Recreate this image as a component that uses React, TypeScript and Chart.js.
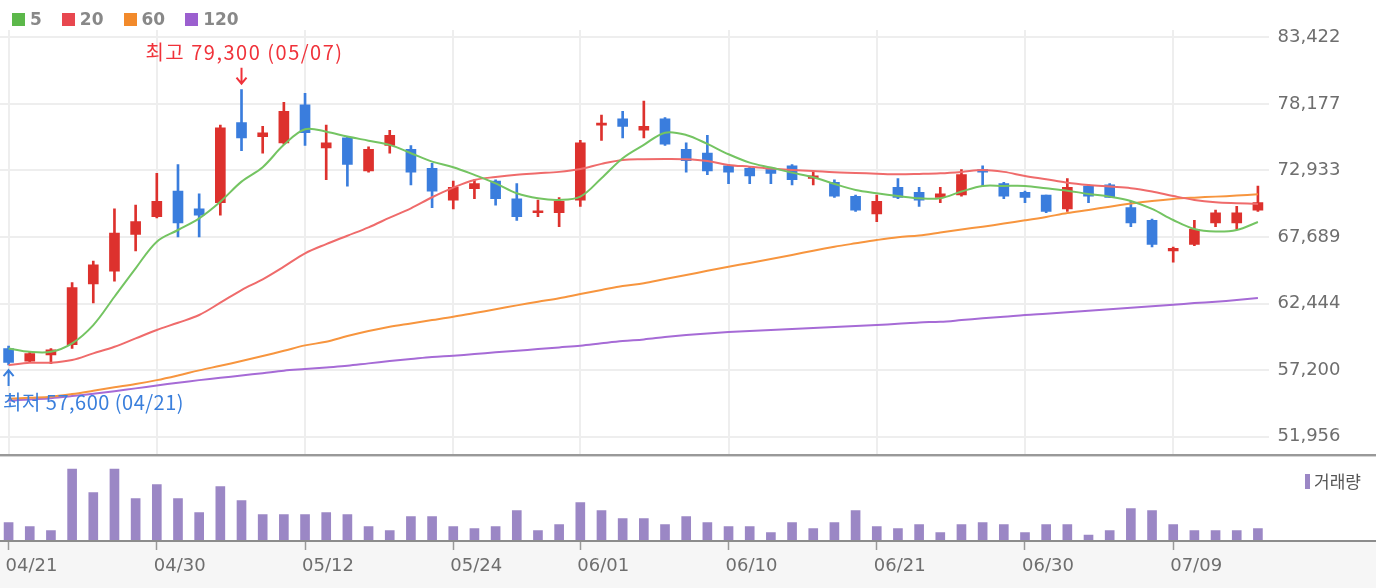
import React, { useEffect, useRef } from 'react';
import { Chart, registerables } from 'chart.js';

Chart.register(...registerables);

// ---------- data ----------
const dates = [
  '04/21', '04/22', '04/23', '04/26', '04/27', '04/28', '04/29', '04/30', '05/03', '05/04',
  '05/06', '05/07', '05/10', '05/11', '05/12', '05/13', '05/14', '05/17', '05/18', '05/20',
  '05/21', '05/24', '05/25', '05/26', '05/27', '05/28', '05/31', '06/01', '06/02', '06/03',
  '06/04', '06/07', '06/08', '06/09', '06/10', '06/11', '06/14', '06/15', '06/16', '06/17',
  '06/18', '06/21', '06/22', '06/23', '06/24', '06/25', '06/28', '06/29', '06/30', '07/01',
  '07/02', '07/05', '07/06', '07/07', '07/08', '07/09', '07/12', '07/13', '07/14', '07/15',
];

const axisDates = ['04/21', '04/30', '05/12', '05/24', '06/01', '06/10', '06/21', '06/30', '07/09'];

const opens = [
  58900, 57900, 58400, 59200, 64000, 65000, 67900, 69300, 71300, 69900,
  70400, 76700, 75600, 75100, 78100, 74700, 75500, 72900, 74900, 74600,
  73100, 70600, 71500, 72100, 70700, 69600, 69600, 70600, 76500, 77000,
  76100, 77000, 74600, 74300, 73300, 73100, 73100, 73300, 72300, 72000,
  70900, 69500, 71600, 71200, 70800, 71000, 73000, 71900, 71200, 71000,
  69900, 71700, 71800, 70000, 69000, 66600, 67100, 68800, 68800, 69800,
];
const highs = [
  59100, 58600, 58900, 64100, 65800, 69900, 70200, 72700, 73400, 71100,
  76500, 79300, 76400, 78300, 79000, 76500, 75600, 74800, 76100, 74900,
  73500, 72100, 72200, 72200, 71900, 70600, 70800, 75300, 77300, 77600,
  78400, 77100, 75100, 75700, 73400, 73200, 73100, 73400, 72800, 72200,
  71000, 71000, 72300, 71600, 71600, 73000, 73300, 72000, 71300, 71000,
  72300, 71800, 71900, 70500, 69100, 66900, 69000, 69800, 70100, 71700,
];
const lows = [
  57600, 57800, 57700, 58900, 62500, 64200, 66600, 69200, 67700, 67700,
  69400, 74500, 74300, 75000, 74900, 72200, 71700, 72800, 74300, 71800,
  70000, 69900, 70700, 70200, 69000, 69300, 68500, 70100, 75300, 75500,
  75500, 74900, 72800, 72600, 71900, 71900, 71900, 71800, 71800, 70800,
  69700, 68900, 70700, 70100, 70400, 70900, 71700, 70700, 70400, 69600,
  69700, 70400, 70800, 68500, 66900, 65700, 67000, 68500, 68300, 69700,
];
const closes = [
  57800, 58500, 58800, 63700, 65500, 68000, 68900, 70500, 68800, 69400,
  76300, 75500, 75900, 77600, 75900, 75100, 73400, 74600, 75700, 72800,
  71300, 71600, 71900, 70700, 69300, 69700, 70500, 75100, 76600, 76400,
  76400, 75000, 73700, 72900, 72800, 72500, 72700, 72200, 72500, 70900,
  69800, 70500, 70800, 70600, 71100, 72600, 72800, 70900, 70800, 69700,
  71600, 70900, 70800, 68800, 67100, 66800, 68300, 69600, 69600, 70400,
];

const ma5 = [
  58910, 58640, 58640, 59310, 60750, 62980, 65220, 67320, 68240, 69160,
  70470, 72050, 73190, 74950, 76180, 75990, 75600, 75280, 74950, 74290,
  73630, 73190, 72580, 71920, 71140, 70740, 70610, 70870, 72320, 73900,
  74950, 75910, 75730, 75020, 74210, 73550, 73160, 72760, 72400, 71870,
  71400, 71140, 70920, 70740, 70740, 71270, 71710, 71710, 71710, 71530,
  71340, 71080, 70870, 70530, 69900, 69030, 68320, 68120, 68240, 68870,
];
const ma20 = [
  57600, 57780, 57780, 57990, 58520, 59040, 59700, 60360, 60930, 61540,
  62510, 63510, 64350, 65350, 66400, 67130, 67790, 68450, 69210, 69950,
  70820, 71580, 72180, 72420, 72600, 72710, 72820, 73050, 73450, 73760,
  73820, 73840, 73820, 73680, 73370, 73230, 73080, 72970, 72890, 72790,
  72740, 72680, 72630, 72660, 72710, 72820, 72970, 72820, 72500, 72240,
  71970, 71790, 71660, 71530, 71270, 70920, 70610, 70430, 70350, 70290,
];
const ma60 = [
  54940, 55020, 55100, 55310, 55570, 55840, 56100, 56410, 56780, 57180,
  57540, 57910, 58310, 58720, 59150, 59430, 59880, 60280, 60620, 60880,
  61140, 61400, 61700, 61990, 62300, 62590, 62860, 63190, 63510, 63830,
  64040, 64380, 64690, 65030, 65350, 65640, 65950, 66270, 66610, 66920,
  67190, 67450, 67670, 67810, 68040, 68280, 68500, 68750, 69000, 69270,
  69580, 69820, 70080, 70320, 70530, 70690, 70790, 70870, 70950, 71060,
];
const ma120 = [
  54780, 54890, 54990, 55150, 55330, 55540, 55760, 55990, 56200, 56410,
  56590, 56780, 56960, 57150, 57280, 57410, 57540, 57730, 57910, 58070,
  58230, 58330, 58460, 58600, 58720, 58860, 58990, 59120, 59310, 59490,
  59620, 59800, 59960, 60090, 60200, 60280, 60360, 60430, 60510, 60590,
  60670, 60750, 60850, 60960, 61010, 61140, 61280, 61400, 61540, 61640,
  61750, 61880, 61990, 62110, 62230, 62350, 62480, 62590, 62720, 62880,
];

// volume (thousand shares)
const volumes = [
  1830, 1430, 1030, 7200, 4830, 7200, 4230, 5630, 4230, 2830,
  5430, 4030, 2630, 2630, 2630, 2830, 2630, 1430, 1030, 2430,
  2430, 1430, 1230, 1430, 3030, 1030, 1630, 3830, 3030, 2230,
  2230, 1630, 2430, 1830, 1430, 1430, 830, 1830, 1230, 1830,
  3030, 1430, 1230, 1630, 830, 1630, 1830, 1630, 830, 1630,
  1630, 600, 1030, 3230, 3030, 1630, 1030, 1030, 1030, 1230,
];

const priceTicks = [51956, 57200, 62444, 67689, 72933, 78177, 83422];
const maPeriods = ['5', '20', '60', '120'];
const volumeLabel = '거래량';
const highLabel = '최고';
const lowLabel = '최저';

const PRICE_MIN = 50510;
const PRICE_MAX = 84000;
const VOLUME_MAX = 7800;

// ---------- styles ----------
const UP = '#dd312d';
const DOWN = '#3a7ddd';
const MA_LINE_COLORS = ['#74c462', '#ef6b6b', '#f7953e', '#a66bd6'];
const MA_BOX_COLORS = ['#5cb84a', '#e8474f', '#f28a2b', '#9b5fcf'];
const VOL_COLOR = '#9b87c5';
const AXIS_FONT = { family: '"DejaVu Sans", sans-serif', size: 18 };
const AXIS_COLOR = '#6e6e6e';
const CANVAS_W = 1378;
const PRICE_H = 456;
const VOL_H = 132;
const AXIS_W = 107.5;

const fmt = (v: number) => Number(v).toLocaleString('en-US');
const isAxisIdx = (i: number) => axisDates.includes(dates[i]);

function drawArrow(ctx: CanvasRenderingContext2D, x: number, tipY: number, tailY: number, color: string) {
  const dir = tipY > tailY ? 1 : -1;
  ctx.strokeStyle = color;
  ctx.lineWidth = 2;
  ctx.beginPath();
  ctx.moveTo(x, tailY);
  ctx.lineTo(x, tipY);
  ctx.moveTo(x - 5, tipY - dir * 6);
  ctx.lineTo(x, tipY);
  ctx.lineTo(x + 5, tipY - dir * 6);
  ctx.stroke();
}

const extremesPlugin = {
  id: 'extremes',
  afterDatasetsDraw(chart: any) {
    const { ctx, scales } = chart;
    const xs = scales.x;
    const ys = scales.y;
    const hi = Math.max(...highs);
    const lo = Math.min(...lows);
    const hiIdx = highs.indexOf(hi);
    const loIdx = lows.indexOf(lo);
    ctx.save();
    ctx.font = '20px "Noto Sans CJK KR", sans-serif';
    ctx.textBaseline = 'middle';
    ctx.textAlign = 'left';
    const place = (text: string, cx: number, cy: number, color: string, spacing: number) => {
      (ctx as any).letterSpacing = spacing + 'px';
      const w = ctx.measureText(text).width;
      let left = cx - w / 2;
      if (left < 5) left = 5;
      if (left + w > chart.chartArea.right) left = chart.chartArea.right - w;
      ctx.fillStyle = color;
      ctx.fillText(text, left, cy);
      (ctx as any).letterSpacing = '0px';
    };
    const hx = xs.getPixelForValue(hiIdx);
    const hy = ys.getPixelForValue(hi);
    drawArrow(ctx, hx, hy - 6, hy - 22, '#f0323a');
    place(`${highLabel} ${fmt(hi)} (${dates[hiIdx]})`, hx + 3, hy - 37, '#f0323a', 1.5);
    const lx = xs.getPixelForValue(loIdx);
    const ly = ys.getPixelForValue(lo);
    drawArrow(ctx, lx, ly + 5, ly + 21, '#3a7fdc');
    place(`${lowLabel} ${fmt(lo)} (${dates[loIdx]})`, lx, ly + 37, '#3a7fdc', 0.5);
    ctx.restore();
  },
};

const priceDecoPlugin = {
  id: 'priceDeco',
  afterDraw(chart: any) {
    const { ctx } = chart;
    ctx.save();
    ctx.fillStyle = '#999999';
    ctx.fillRect(0, chart.chartArea.bottom - 1, chart.width, 2);
    ctx.restore();
  },
};

const volDecoPlugin = {
  id: 'volDeco',
  beforeDraw(chart: any) {
    const { ctx, chartArea } = chart;
    ctx.save();
    ctx.fillStyle = '#f6f6f6';
    ctx.fillRect(0, chartArea.bottom, chart.width, chart.height - chartArea.bottom);
    ctx.fillStyle = '#d4d4d4';
    ctx.fillRect(0, 0, chart.width, 1);
    ctx.restore();
  },
  afterDatasetsDraw(chart: any) {
    const { ctx, chartArea } = chart;
    ctx.save();
    ctx.fillStyle = '#8c8c8c';
    ctx.fillRect(0, chartArea.bottom - 1, chart.width, 2);
    ctx.restore();
  },
};

export default function App() {
  const priceRef = useRef<HTMLCanvasElement | null>(null);
  const volRef = useRef<HTMLCanvasElement | null>(null);

  useEffect(() => {
    if (!priceRef.current || !volRef.current) return;
    const candleColors = dates.map((_, i) => (closes[i] >= opens[i] ? UP : DOWN));
    const maData = [ma5, ma20, ma60, ma120];

    const price = new Chart(priceRef.current, {
      type: 'bar',
      data: {
        labels: dates,
        datasets: [
          ...maData.map((d, k) => ({
            type: 'line' as const,
            label: maPeriods[k],
            data: d,
            borderColor: MA_LINE_COLORS[k],
            borderWidth: 2,
            pointRadius: 0,
            tension: 0.35,
            fill: false,
            order: -1 - (3 - k),
          })),
          {
            type: 'bar' as const,
            label: 'wick',
            data: dates.map((_, i) => [lows[i], highs[i]]),
            backgroundColor: candleColors,
            barThickness: 2,
            grouped: false,
            order: 2,
          },
          {
            type: 'bar' as const,
            label: 'body',
            data: dates.map((_, i) => [opens[i], closes[i]]),
            backgroundColor: candleColors,
            barThickness: 10,
            minBarLength: 2,
            grouped: false,
            order: 1,
          },
        ] as any,
      },
      options: {
        responsive: false,
        animation: false,
        devicePixelRatio: 1,
        events: [],
        layout: { padding: { top: 30, bottom: 1, left: 0, right: 0 } },
        plugins: { legend: { display: false }, tooltip: { enabled: false } },
        scales: {
          x: {
            offset: true,
            grid: {
              offset: false,
              drawTicks: false,
              lineWidth: 2,
              color: (c: any) => (isAxisIdx(c.index) ? '#eeeeee' : 'rgba(0,0,0,0)'),
            },
            border: { display: false },
            ticks: { display: false, autoSkip: false },
            afterFit: (s: any) => {
              s.height = 0;
              s.paddingLeft = 0;
              s.paddingRight = 0;
            },
          },
          y: {
            position: 'right',
            min: PRICE_MIN,
            max: PRICE_MAX,
            afterBuildTicks: (s: any) => {
              s.ticks = priceTicks.map((v) => ({ value: v }));
            },
            afterFit: (s: any) => {
              s.width = AXIS_W;
              s.paddingTop = 0;
              s.paddingBottom = 0;
            },
            grid: { color: '#eeeeee', lineWidth: 2, drawTicks: false },
            border: { display: false },
            ticks: {
              padding: 9,
              color: AXIS_COLOR,
              font: AXIS_FONT,
              autoSkip: false,
              callback: (v: any) => fmt(Number(v)),
            },
          },
        },
      } as any,
      plugins: [extremesPlugin, priceDecoPlugin],
    });

    const vol = new Chart(volRef.current, {
      type: 'bar',
      data: {
        labels: dates,
        datasets: [
          {
            label: volumeLabel,
            data: volumes,
            backgroundColor: VOL_COLOR,
            barThickness: 9,
          },
        ],
      },
      options: {
        responsive: false,
        animation: false,
        devicePixelRatio: 1,
        events: [],
        layout: { padding: { top: 7, right: AXIS_W, left: 0, bottom: 0 } },
        plugins: { legend: { display: false }, tooltip: { enabled: false } },
        scales: {
          x: {
            offset: true,
            grid: {
              offset: false,
              drawOnChartArea: false,
              drawTicks: true,
              tickLength: 9,
              tickWidth: 1.5,
              tickColor: (c: any) => (isAxisIdx(c.index) ? '#999999' : 'rgba(0,0,0,0)'),
            },
            border: { display: false },
            ticks: {
              autoSkip: false,
              maxRotation: 0,
              minRotation: 0,
              align: 'start',
              labelOffset: -3,
              padding: 6,
              color: AXIS_COLOR,
              font: AXIS_FONT,
              callback: (_v: any, i: number) => (isAxisIdx(i) ? dates[i] : ''),
            },
            afterFit: (s: any) => {
              s.height = 47;
              s.paddingLeft = 0;
              s.paddingRight = 0;
            },
          },
          y: { display: false, min: 0, max: VOLUME_MAX },
        },
      } as any,
      plugins: [volDecoPlugin],
    });

    return () => {
      price.destroy();
      vol.destroy();
    };
  }, []);

  return (
    <div
      style={{
        position: 'absolute',
        left: 0,
        top: 0,
        width: 1376,
        height: 588,
        overflow: 'hidden',
        background: '#ffffff',
      }}
    >
      <canvas
        ref={priceRef}
        width={CANVAS_W}
        height={PRICE_H}
        style={{ position: 'absolute', left: -2, top: 0, width: CANVAS_W, height: PRICE_H, display: 'block' }}
      />
      <canvas
        ref={volRef}
        width={CANVAS_W}
        height={VOL_H}
        style={{ position: 'absolute', left: -2, top: 456, width: CANVAS_W, height: VOL_H, display: 'block' }}
      />
      <div
        style={{
          position: 'absolute',
          left: 12,
          top: 9,
          display: 'flex',
          gap: 20,
          alignItems: 'center',
          font: 'bold 17px "DejaVu Sans", sans-serif',
          lineHeight: '20px',
          color: '#888888',
        }}
      >
        {maPeriods.map((p, k) => (
          <span key={p} style={{ display: 'flex', alignItems: 'center', gap: 5 }}>
            <span style={{ width: 13, height: 13, background: MA_BOX_COLORS[k], display: 'inline-block' }} />
            {p}
          </span>
        ))}
      </div>
      <div
        style={{
          position: 'absolute',
          left: 1305,
          top: 472,
          display: 'flex',
          alignItems: 'center',
          gap: 4,
          font: '17px "Noto Sans CJK KR", sans-serif',
          lineHeight: '18px',
          color: '#555555',
        }}
      >
        <span style={{ width: 5, height: 15, background: VOL_COLOR, display: 'inline-block' }} />
        {volumeLabel}
      </div>
    </div>
  );
}
